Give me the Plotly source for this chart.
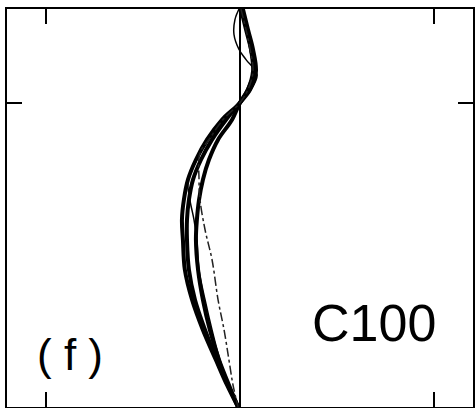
import plotly.graph_objects as go

# Depth levels (km, downward) shared by the main profiles
depth = [0.0, 0.088, 0.173, 0.267, 0.344, 0.400, 0.473, 0.558, 0.644, 0.729,
         0.815, 0.900, 0.986, 1.114, 1.242, 1.371, 1.499, 1.606, 1.700]

# Normalised mode amplitude of the thick profiles
amp_outer = [0.005, 0.031, 0.057, 0.072, 0.041, 0.0, -0.093, -0.170, -0.227, -0.268,
             -0.289, -0.299, -0.294, -0.284, -0.247, -0.191, -0.124, -0.067, -0.010]
amp_mid = [0.015, 0.041, 0.067, 0.082, 0.052, 0.0, -0.072, -0.144, -0.201, -0.242,
           -0.263, -0.273, -0.273, -0.263, -0.232, -0.180, -0.119, -0.062, -0.010]
amp_inner = [0.010, 0.036, 0.057, 0.067, 0.041, 0.0, -0.041, -0.113, -0.160, -0.191,
             -0.211, -0.222, -0.227, -0.216, -0.191, -0.155, -0.108, -0.057, -0.010]

# Thin solid profile (own depth sampling)
depth_thin = [0.0, 0.045, 0.109, 0.173, 0.216, 0.280, 0.344, 0.400, 0.473, 0.558,
              0.644, 0.729, 0.815, 0.900, 0.986, 1.114, 1.242, 1.371, 1.499, 1.606, 1.700]
amp_thin = [-0.005, -0.026, -0.031, -0.005, 0.031, 0.088, 0.057, 0.0, -0.082, -0.160,
            -0.222, -0.268, -0.258, -0.237, -0.222, -0.211, -0.180, -0.144, -0.103, -0.057, -0.010]

# Dash-dot profile
depth_dd = [0.0, 0.088, 0.173, 0.267, 0.344, 0.400, 0.473, 0.558, 0.614, 0.729,
            0.815, 0.943, 1.071, 1.242, 1.371, 1.499, 1.606, 1.700]
amp_dd = [0.005, 0.031, 0.052, 0.067, 0.041, 0.0, -0.088, -0.160, -0.206, -0.211,
          -0.206, -0.180, -0.144, -0.113, -0.082, -0.057, -0.036, -0.010]

x_ticks = [-1, 1]
y_ticks = [0.4]

fig = go.Figure()

for amp in (amp_outer, amp_mid, amp_inner):
    fig.add_trace(go.Scatter(x=amp, y=depth, mode="lines",
                             line=dict(color="black", width=4, shape="spline"),
                             showlegend=False, hoverinfo="skip"))

fig.add_trace(go.Scatter(x=amp_thin, y=depth_thin, mode="lines",
                         line=dict(color="black", width=1.5, shape="spline"),
                         showlegend=False, hoverinfo="skip"))

fig.add_trace(go.Scatter(x=amp_dd, y=depth_dd, mode="lines",
                         line=dict(color="#222222", width=1.5, shape="spline", dash="dashdot"),
                         showlegend=False, hoverinfo="skip"))

fig.add_annotation(x=0.135, y=0.133, xref="paper", yref="paper", text="( f )",
                   xanchor="center", yanchor="middle",
                   showarrow=False, font=dict(family="Liberation Sans", size=44, color="black"))
fig.add_annotation(x=0.788, y=0.211, xref="paper", yref="paper", text="C100",
                   xanchor="center", yanchor="middle",
                   showarrow=False, font=dict(family="Liberation Sans", size=52, color="black"))

fig.update_xaxes(range=[-1.2, 1.2], tickvals=x_ticks, showticklabels=False,
                 ticks="inside", ticklen=15, tickwidth=2, tickcolor="black",
                 showline=True, linecolor="black", linewidth=2, mirror="ticks",
                 showgrid=False, zeroline=True, zerolinecolor="black", zerolinewidth=1.5)
fig.update_yaxes(range=[1.7, 0.0], tickvals=y_ticks, showticklabels=False,
                 ticks="inside", ticklen=15, tickwidth=2, tickcolor="black",
                 showline=True, linecolor="black", linewidth=2, mirror="ticks",
                 showgrid=False, zeroline=False)

fig.update_layout(width=476, height=408, margin=dict(l=7, r=3, t=9, b=1),
                  paper_bgcolor="white", plot_bgcolor="white")

fig.write_html("out.html")
